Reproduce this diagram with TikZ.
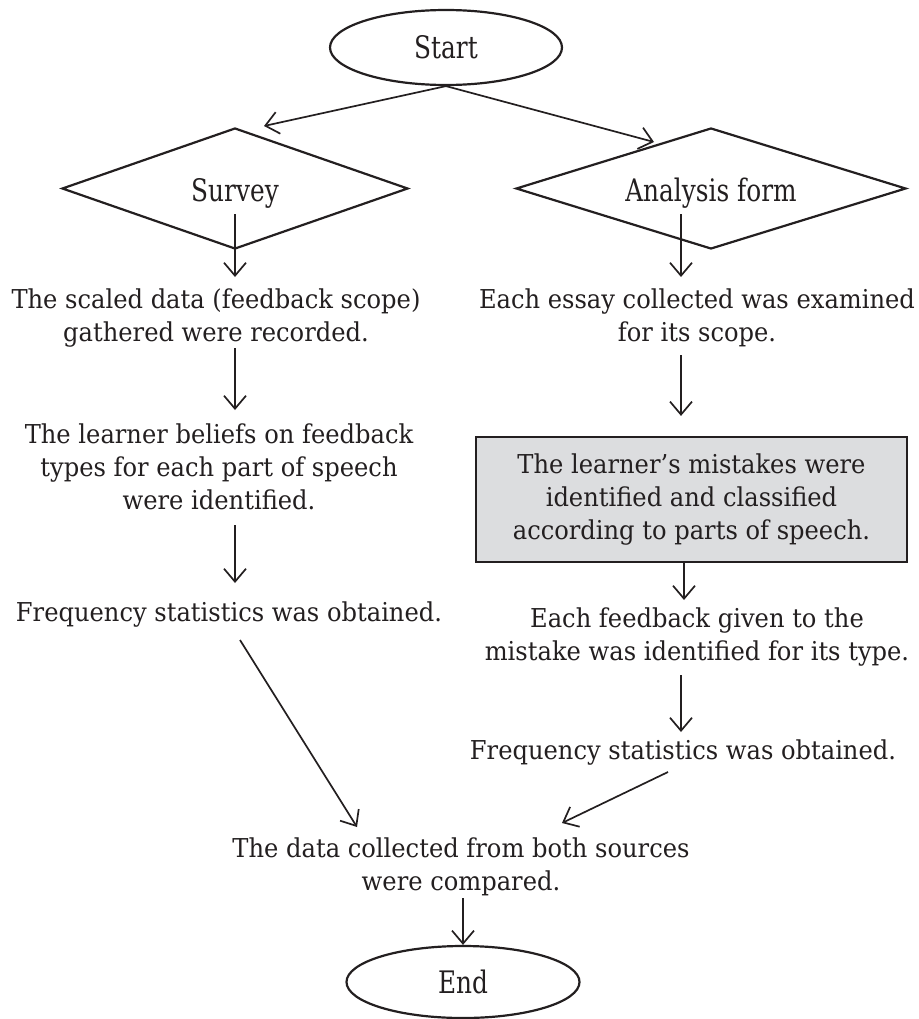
\documentclass[tikz,border=0pt]{standalone}
\usepackage{fontspec}
\setmainfont{DejaVu Serif}[FakeStretch=0.93]
\newfontfamily\labfont{DejaVu Serif}[FakeStretch=0.8]
\usetikzlibrary{shapes.geometric,arrows.meta,calc}
\definecolor{ink}{RGB}{35,31,32}
\definecolor{boxgray}{RGB}{220,221,223}
\begin{document}
\begin{tikzpicture}[x=1bp,y=-1bp,
  font=\fontsize{26bp}{33bp}\selectfont, text=ink,
  term/.style={ellipse, draw=ink, line width=2.2bp, inner sep=0pt,
    font=\labfont\fontsize{31bp}{32bp}\selectfont},
  dec/.style={diamond, draw=ink, line width=2.2bp, inner sep=0pt,
    font=\labfont\fontsize{31bp}{32bp}\selectfont},
  txt/.style={align=center, inner sep=0pt},
  gbox/.style={align=center, draw=ink, fill=boxgray, line width=2.2bp},
  arr/.style={draw=ink, line width=1.7bp, -{Straight Barb[length=13bp,width=22bp]}}]
\useasboundingbox (0,0) rectangle (919,1019);

\node[term, minimum width=232bp, minimum height=75bp] (start) at (446,47.5) {Start};
\node[dec, aspect=2.86, minimum width=346bp, minimum height=121bp] (survey) at (235,188.5) {\raisebox{-5bp}[\height][\depth]{Survey}};
\node[dec, aspect=3.22, minimum width=390bp, minimum height=121bp] (analysis) at (711,188.5) {\raisebox{-5bp}[\height][\depth]{Analysis form}};

\node[txt] (t1) at (216,318.5) {The scaled data (feedback scope)\\gathered were recorded.};
\node[txt] (t2) at (219,467) {The learner beliefs on feedback\\types for each part of speech\\were identified.};
\node[txt] (t3) at (229,615) {Frequency statistics was obtained.};

\node[txt] (r1) at (697,318) {Each essay collected was examined\\for its scope.};
\node[gbox, minimum width=431bp, minimum height=125bp] (r2) at (691.5,499.5) {The learner’s mistakes were\\identified and classified\\according to parts of speech.};
\node[txt] (r3) at (697,637) {Each feedback given to the\\mistake was identified for its type.};
\node[txt] (r4) at (683,753) {Frequency statistics was obtained.};

\node[txt] (fin) at (461,866.5) {The data collected from both sources\\were compared.};
\node[term, minimum width=233bp, minimum height=72bp] (stop) at (463,982) {End};

\coordinate (lcol) at (survey.center);
\coordinate (rcol) at ($(analysis.center)+(-30,0)$);
\coordinate (sA) at (264,126);
\coordinate (aA) at (654,142);
\coordinate (fL) at ($(fin.center)+(-104,-39.5)$);
\coordinate (fR) at ($(fin.center)+(101,-43.5)$);

\draw[arr] (start.south) -- (sA);
\draw[arr] (start.south) -- (aA);
\draw[arr] ($(survey.center)+(0,25.5)$) -- ($(t1.center -| lcol)+(0,-41.5)$);
\draw[arr] ($(analysis.center)+(-30,25.5)$) -- ($(r1.center -| rcol)+(0,-41)$);
\draw[arr] ($(t1.center -| lcol)+(0,29.5)$) -- ($(t2.center -| lcol)+(0,-57)$);
\draw[arr] ($(t2.center -| lcol)+(0,58)$) -- ($(t3.center -| lcol)+(0,-32)$);
\draw[arr] ($(r1.center -| rcol)+(0,37)$) -- ($(r2.north -| rcol)+(0,-20)$);
\draw[arr] ($(r2.south -| rcol)+(3,0)$) -- ($(r3.center -| rcol)+(3,-37)$);
\draw[arr] ($(r3.center -| rcol)+(0,38)$) -- ($(r4.center -| rcol)+(0,-21)$);
\draw[arr] ($(t3.center)+(11,25)$) -- (fL);
\draw[arr] ($(r4.center)+(-15,19)$) -- (fR);
\draw[arr] ($(fin.center -| stop.north)+(0,31.5)$) -- (stop.north);
\end{tikzpicture}
\end{document}
